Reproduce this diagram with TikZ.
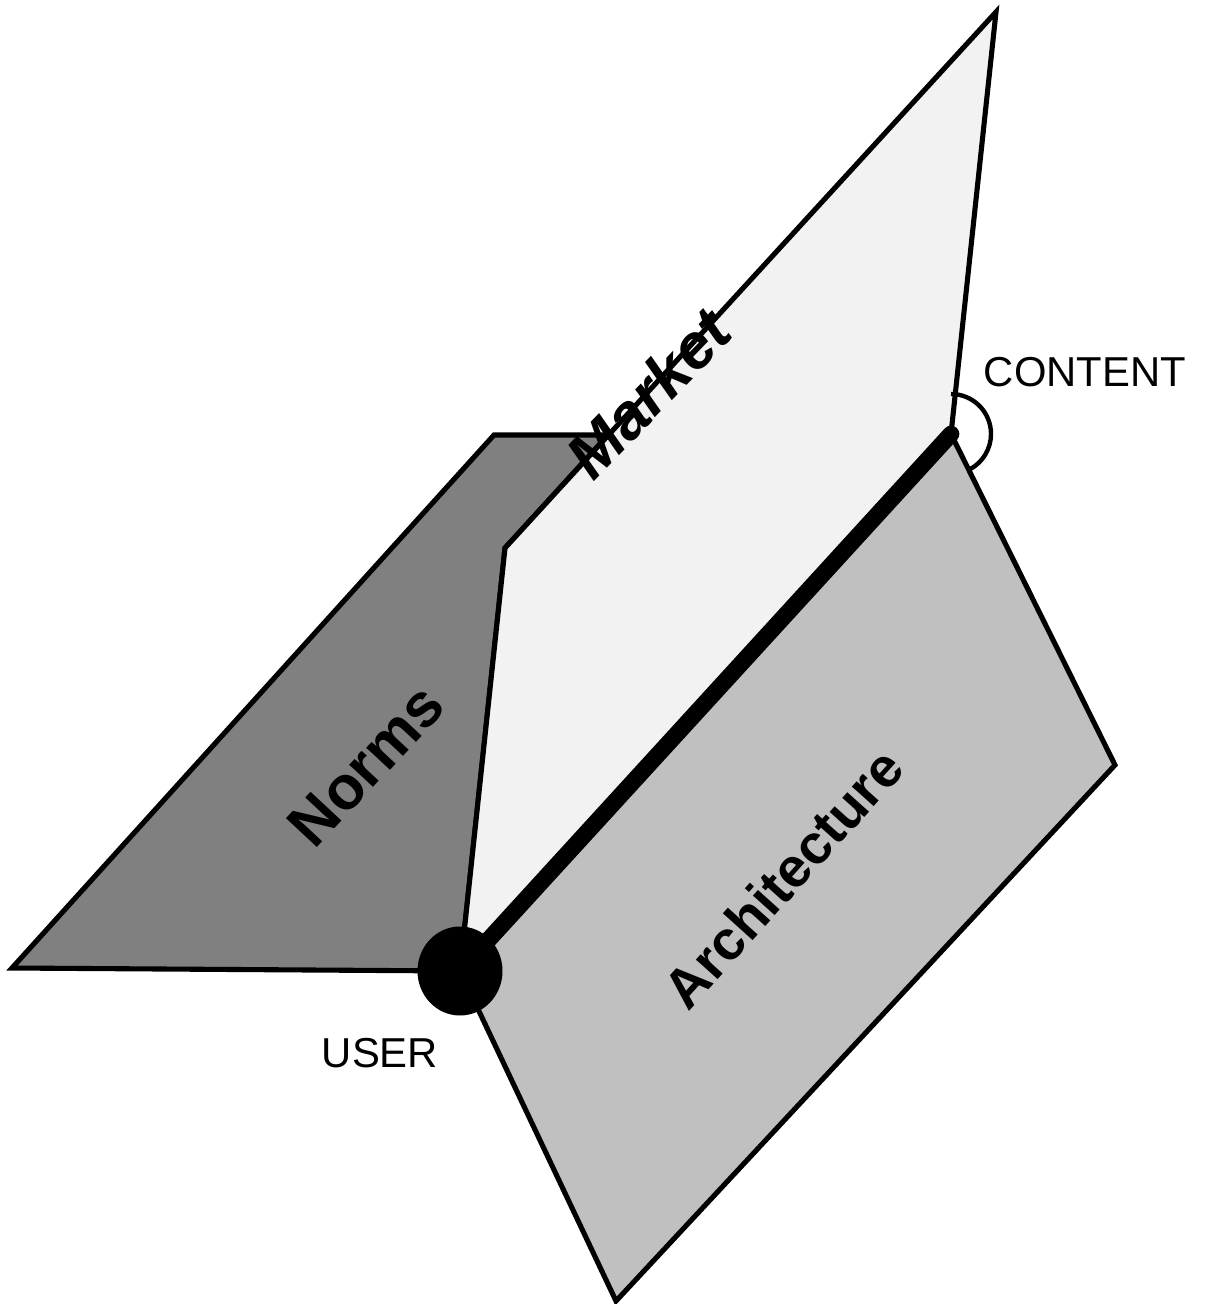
\documentclass[tikz,border=0pt]{standalone}
\usepackage{fontspec}
\setmainfont{Liberation Sans}
\definecolor{normsgray}{HTML}{808080}
\definecolor{marketgray}{HTML}{F2F2F2}
\definecolor{archgray}{HTML}{C0C0C0}
\begin{document}
\begin{tikzpicture}[x=0.02cm,y=-0.02cm,
  plane/.style={draw=black,line width=2.9pt,line join=miter},
  planelabel/.style={font=\fontsize{35}{40}\selectfont\bfseries},
  axislabel/.style={font=\fontsize{23.8}{28}\selectfont}]
\useasboundingbox (0,0) rectangle (1207,1304);

% corner points of the three planes
\coordinate (user) at (460,971);
\coordinate (content) at (951,434);
\coordinate (ntl) at (494,435);
\coordinate (ntr) at (608,435);
\coordinate (nbl) at (12,968);
\coordinate (mtop) at (996,12);
\coordinate (mkink) at (505,548);
\coordinate (aright) at (1115,765);
\coordinate (abottom) at (616,1301);

% Norms plane (back, left)
\filldraw[plane,fill=normsgray] (nbl) -- (ntl) -- (ntr) -- (mkink) -- (user) -- cycle;
% Market plane (upright)
\filldraw[plane,fill=marketgray] (mkink) -- (mtop) -- (content) -- (user) -- cycle;
% Architecture plane (front, right)
\filldraw[plane,fill=archgray] (content) -- (aright) -- (abottom) -- (user) -- cycle;

% angle mark at the content end (y axis points down, so -90 is up)
\draw[line width=2.5pt] ([shift={(-90:40)}]content) arc[start angle=-90,end angle=62,radius=40];

% common axis from user to content
\draw[line width=9.5pt,line cap=round] (user) -- (content);
\fill (user) ellipse[x radius=42.5,y radius=44.5];

% labels
\node[planelabel,rotate=47] (norms) at (366,765) {Norms};
\node[planelabel,rotate=46,font=\fontsize{36}{40}\selectfont\bfseries\itshape] (market) at (648,393) {Market};
\node[planelabel,rotate=48,font=\fontsize{31.5}{36}\selectfont\bfseries] (arch) at (783,878) {Architecture};
\node[axislabel] (contentlbl) at (1085,372) {CONTENT};
\node[axislabel] (userlbl) at (380,1053) {USER};
\end{tikzpicture}
\end{document}
